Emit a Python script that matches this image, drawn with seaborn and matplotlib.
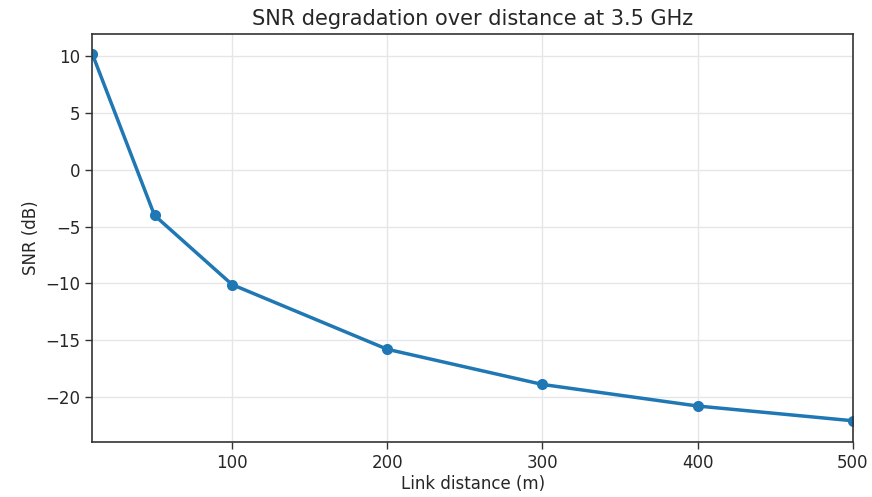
import matplotlib
matplotlib.use("Agg")
import matplotlib.pyplot as plt
import seaborn as sns
import pandas as pd

distance_m = [10, 50, 100, 200, 300, 400, 500]
snr_db = [10.2, -4.0, -10.1, -15.8, -18.9, -20.8, -22.1]
xticks = [100, 200, 300, 400, 500]
yticks = [10, 5, 0, -5, -10, -15, -20]

sns.set_theme(style="whitegrid")
plt.rcParams['font.family'] = ['DejaVu Sans']

df = pd.DataFrame({"distance": distance_m, "snr": snr_db})

fig, ax = plt.subplots(figsize=(8.72, 4.97), dpi=100)
sns.lineplot(data=df, x="distance", y="snr", ax=ax, color="#1f77b4",
             linewidth=2.5, marker="o", markersize=8, markeredgewidth=0)

ax.set_xlim(10, 500)
ax.set_ylim(-24, 12)
ax.set_xticks(xticks)
ax.set_yticks(yticks)
ax.set_xlabel("Link distance (m)", fontsize=12, labelpad=2)
ax.set_ylabel("SNR (dB)", fontsize=12)
ax.set_title("SNR degradation over distance at 3.5 GHz", fontsize=15)
ax.tick_params(axis="both", labelsize=12, length=5, width=1, color="#333333",
               bottom=True, left=True)
ax.grid(True, color="#e6e6e6", linewidth=1)
for s in ax.spines.values():
    s.set_edgecolor("#333333")
    s.set_linewidth(1.2)
ax.set_facecolor("white")

fig.subplots_adjust(left=0.106, right=0.978, top=0.932, bottom=0.11)
fig.savefig("out.png", dpi=100)
